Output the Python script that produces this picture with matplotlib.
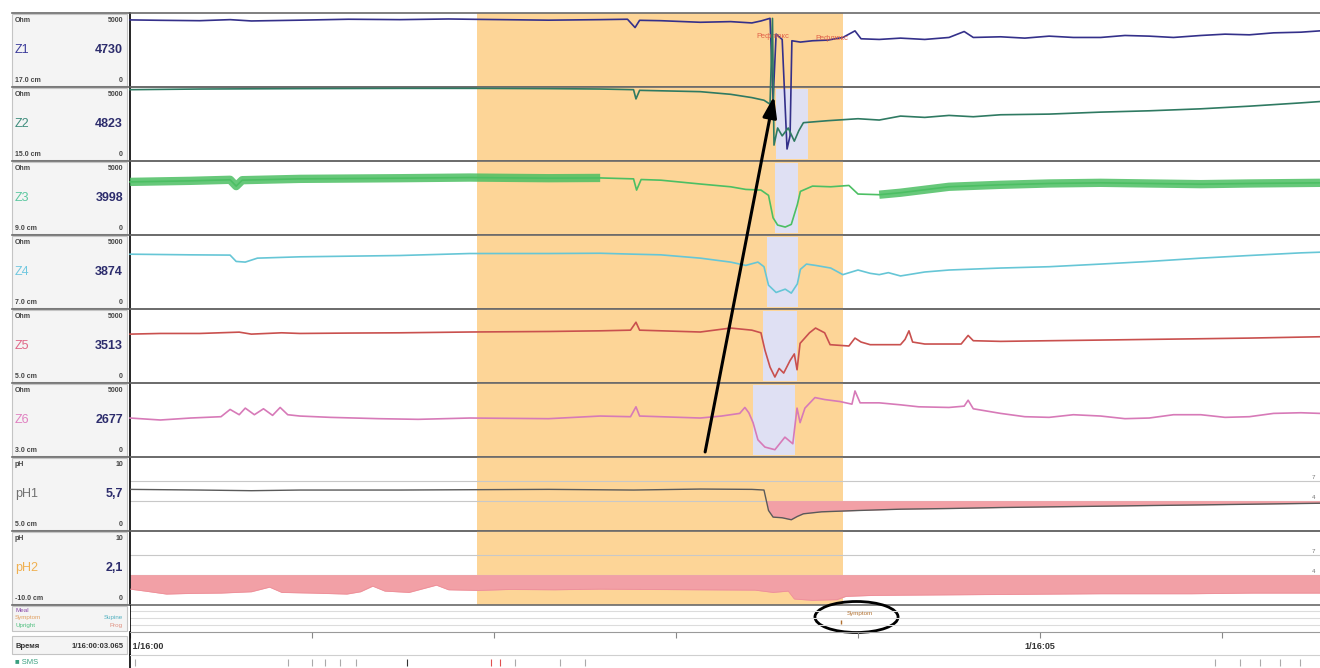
import numpy as np
import matplotlib
matplotlib.use('Agg')
import matplotlib.pyplot as plt
from matplotlib.patches import Rectangle, Ellipse, ConnectionPatch

plt.rcParams['font.family'] = ['Liberation Sans', 'DejaVu Sans']

# time axis: seconds from 1/16:00:00
T_END = 392.3

channels = ['Z1', 'Z2', 'Z3', 'Z4', 'Z5', 'Z6', 'pH1', 'pH2']
units = ['Ohm'] * 6 + ['pH'] * 2
scale_top = ['5000'] * 6 + ['10'] * 2
positions = ['17.0 cm', '15.0 cm', '9.0 cm', '7.0 cm', '5.0 cm', '3.0 cm', '5.0 cm', '-10.0 cm']
cursor_values = ['4730', '4823', '3998', '3874', '3513', '2677', '5,7', '2,1']
name_colors = ['#3b3b9a', '#3d8c7c', '#5cc8a0', '#70c8e0', '#e06888', '#e080c0', '#707070', '#f0b050']
trace_colors = ['#34308a', '#2f7a62', '#4cbf63', '#66c6d6', '#c9504e', '#d77ab8', '#5a5a5a', '#ee8f99']

# impedance, Ohm
z1_t = [0, 10, 23, 33, 40, 56, 72, 89, 105, 115, 138, 155, 164, 166.5, 168, 175, 188, 198, 205, 208,
        211, 212, 213, 215, 216.6, 217.6, 218.2, 221, 225, 230, 235, 239, 241, 247, 254, 262, 270, 275,
        278, 287, 295, 303, 311, 320, 328, 336, 344, 353, 361, 369, 377, 386, 392.3]
z1_v = [4780, 4750, 4720, 4800, 4700, 4760, 4830, 4800, 4850, 4820, 4760, 4800, 4830, 4200, 4750, 4720,
        4600, 4650, 4550, 4700, 4900, -1300, 3700, 3300, -5000, -4000, 3200, 3100, 3200, 3250, 3450, 3950,
        3350, 3300, 3400, 3300, 3450, 3900, 3450, 3500, 3400, 3550, 3450, 3450, 3600, 3550, 3450, 3600,
        3700, 3650, 3800, 3850, 3950]

z2_t = [0, 23, 56, 89, 115, 138, 155, 166, 166.8, 168, 188, 198, 205, 209, 211, 211.8, 212.3, 213.5, 215,
        217, 219, 220.5, 222, 230, 240, 247, 254, 262, 270, 278, 287, 303, 320, 336, 353, 369, 386, 392.3]
z2_v = [5100, 5150, 5180, 5200, 5200, 5180, 5150, 5100, 4400, 5050, 4950, 4750, 4500, 4300, 4000, 10500,
        900, 2200, 1600, 2200, 1200, 2000, 2600, 2750, 2900, 2800, 3100, 3000, 3150, 3050, 3200, 3250,
        3400, 3500, 3650, 3850, 4100, 4200]

z3_t = [0, 20, 33, 35, 37, 56, 89, 112, 138, 155, 166, 167, 168.5, 175, 188, 198, 203, 208, 210.5, 212,
        213.5, 216, 218, 220, 221, 225, 231, 237, 240, 247, 254, 270, 287, 303, 320, 336, 353, 369, 392.3]
z3_v = [3720, 3800, 3880, 3400, 3850, 3950, 4000, 4050, 4000, 4020, 3950, 3100, 3900, 3850, 3560, 3350,
        3150, 3100, 2700, 1000, 450, 300, 500, 2000, 3000, 3400, 3350, 3450, 2800, 2750, 2900, 3350, 3500,
        3600, 3650, 3600, 3550, 3600, 3650]
z3_band = [(0, 164), (247, 392.3)]

z4_t = [0, 20, 33, 35, 38, 42, 56, 89, 112, 138, 155, 166, 175, 188, 198, 203, 207, 209, 210.5, 213, 216,
        218, 220, 221, 223, 226, 231, 235, 240, 244, 247, 250, 254, 262, 270, 287, 303, 320, 336, 353,
        369, 386, 392.3]
z4_v = [3850, 3800, 3780, 3300, 3250, 3550, 3650, 3750, 3900, 3900, 3920, 3850, 3800, 3550, 3250, 3000,
        3250, 2900, 1500, 950, 1200, 900, 1600, 2700, 3100, 3000, 2800, 2300, 2650, 2400, 2300, 2450,
        2200, 2500, 2650, 2800, 2900, 3100, 3300, 3550, 3750, 3950, 4000]

z5_t = [0, 10, 23, 36, 40, 50, 56, 72, 89, 112, 138, 155, 165, 166.8, 168, 188, 198, 205, 208, 209.3, 211,
        212.6, 214, 215.5, 217.6, 219, 219.9, 220.9, 224, 226, 229, 230.8, 237, 239, 241, 244, 254, 255.5,
        256.8, 258, 262, 274, 276.3, 278, 287, 303, 320, 336, 353, 369, 392.3]
z5_v = [3400, 3450, 3450, 3550, 3400, 3500, 3450, 3480, 3500, 3560, 3600, 3650, 3700, 4300, 3700, 3560,
        3860, 3700, 3500, 2200, 900, 150, 800, 450, 1400, 1900, 700, 2700, 3500, 3860, 3500, 2600, 2500,
        3100, 2800, 2600, 2600, 3000, 3650, 2800, 2650, 2650, 3300, 2900, 2850, 2900, 2950, 3000, 3050,
        3100, 3200]

z6_t = [0, 10, 20, 30, 33, 36, 38, 41, 44, 47, 49.5, 52, 56, 66, 82, 95, 112, 138, 155, 165, 166.8, 168,
        188, 195, 201, 202.7, 204, 205.4, 207, 209.3, 212.6, 215.9, 218.5, 219.9, 220.9, 222.5, 225.8,
        229, 234, 238, 239, 240.7, 247, 254, 260, 270, 275, 276.3, 278, 287, 295, 303, 311, 320, 328,
        336, 344, 353, 361, 369, 377, 386, 392.3]
z6_v = [2650, 2500, 2650, 2750, 3300, 2900, 3400, 2900, 3350, 2850, 3450, 2900, 2800, 2700, 2600, 2550,
        2650, 2600, 2800, 2750, 3500, 2800, 2650, 2800, 3000, 3450, 3050, 2300, 1000, 450, 250, 1200,
        700, 3400, 2300, 3400, 4200, 4050, 3900, 3700, 4700, 3800, 3800, 3650, 3500, 3450, 3550, 4000,
        3350, 3000, 2750, 2700, 2900, 2800, 2600, 2650, 2900, 2900, 2700, 2750, 3000, 3050, 3000]

# pH
ph1_t = [0, 23, 40, 56, 89, 112, 138, 166, 188, 205, 209, 210.5, 212, 215, 218, 220, 222, 228, 240, 254,
         270, 287, 303, 320, 336, 353, 369, 392.3]
ph1_v = [5.7, 5.6, 5.5, 5.6, 5.6, 5.65, 5.7, 5.6, 5.75, 5.7, 5.6, 2.5, 1.5, 1.4, 1.1, 1.6, 2.0, 2.3, 2.5,
         2.7, 2.8, 2.95, 3.05, 3.15, 3.25, 3.35, 3.45, 3.6]

ph2_t = [0, 5, 12, 20, 30, 40, 46, 50, 60, 71.5, 76, 80, 84, 92, 101, 105, 115, 125, 140, 155, 170, 188,
         206, 212, 217, 219, 225, 233, 236, 245, 260, 290, 320, 350, 370, 392.3]
ph2_v = [1.8, 1.5, 1.05, 1.15, 1.2, 1.4, 2.1, 1.3, 1.2, 1.05, 1.4, 2.25, 1.5, 1.3, 2.4, 1.7, 1.6, 1.75,
         1.7, 1.8, 1.75, 1.7, 1.65, 1.3, 1.5, 0.3, 0.1, 0.2, 0.7, 0.85, 0.9, 1.0, 1.1, 1.1, 1.2, 1.2]

series_t = [z1_t, z2_t, z3_t, z4_t, z5_t, z6_t, ph1_t, ph2_t]
series_v = [z1_v, z2_v, z3_v, z4_v, z5_v, z6_v, ph1_v, ph2_v]

# reflux window and bolus boxes
reflux_start, reflux_end = 114.4, 235.1
bolus_rows = [1, 2, 3, 4, 5]
bolus_start = [213.0, 212.6, 210.0, 208.7, 205.4]
bolus_end = [223.5, 220.2, 220.2, 219.9, 219.2]
reflux_label_t = [212.0, 231.4]
reflux_label_v = [3560, 3400]
ph_lines = [7, 4]

symptom_t = 239.0
minute_ticks = [0, 60, 120, 180, 240, 300, 360]
time_label_t = [0, 300]
time_labels = ['1/16:00', '1/16:05']
time_label_ha = ['left', 'center']
overview_t = [1.6, 52, 60, 64.3, 69.2, 74.5, 91.3, 119, 122, 127, 141.8, 150, 357.7, 366, 372.5, 379, 385.7]
overview_c = ['#aaaaaa'] * 6 + ['#333333', '#e05050', '#e05050'] + ['#aaaaaa'] * 8

W, H = 1320, 668
fig = plt.figure(figsize=(W / 100, H / 100), dpi=100)
ORANGE = '#fdd597'
LAVENDER = '#dfe0f3'
SEP = '#6a6a6a'
TOP, ROW = 13, 74


def rect(top, height, left=130, width=1190):
    return [left / W, 1 - (top + height) / H, width / W, height / H]


bg_axes, tr_axes = [], []
for i, name in enumerate(channels):
    r = rect(TOP + ROW * i, ROW)
    bg = fig.add_axes(r, zorder=1)
    tr = fig.add_axes(r, zorder=2)
    if i < 6:
        lim = (-303, 5303)
    else:
        lim = (-0.606, 10.606)
    for a in (bg, tr):
        a.set_xlim(0, T_END)
        a.set_ylim(*lim)
        a.set_xticks([])
        a.set_yticks([])
        a.patch.set_visible(False)
    tr.axis('off')
    bg.spines['right'].set_visible(False)
    bg.spines['top'].set_color(SEP)
    bg.spines['bottom'].set_color(SEP)
    bg.spines['top'].set_linewidth(1.2)
    bg.spines['bottom'].set_linewidth(1.2)
    bg.spines['left'].set_color('black')
    bg.spines['left'].set_linewidth(1.2)
    bg.axvspan(reflux_start, reflux_end, color=ORANGE, lw=0, zorder=0)
    bg_axes.append(bg)
    tr_axes.append(tr)

for k, row in enumerate(bolus_rows):
    bg_axes[row].axvspan(bolus_start[k], bolus_end[k], ymin=0.03, ymax=0.97,
                         color=LAVENDER, lw=0, zorder=0.5)

# impedance traces
for i in range(6):
    t = np.array(series_t[i])
    v = np.array(series_v[i])
    tr_axes[i].plot(t, v, color=trace_colors[i], lw=1.2, clip_on=False)

t3 = np.array(z3_t)
v3 = np.array(z3_v)
for a, b in z3_band:
    m = (t3 >= a) & (t3 <= b)
    tr_axes[2].plot(t3[m], v3[m], color=trace_colors[2], lw=6, alpha=0.85, solid_capstyle='butt')

for t, v in zip(reflux_label_t, reflux_label_v):
    tr_axes[0].text(t, v, 'Рефлюкс', color='#e06048', fontsize=5.5, ha='center', va='center')

# pH traces with acid fill below pH 4
for i in (6, 7):
    t = np.array(series_t[i])
    v = np.array(series_v[i])
    bg = bg_axes[i]
    for lv in ph_lines:
        bg.axhline(lv, color='#c8c8c8', lw=0.8, zorder=0.6)
        bg.text(T_END - 1.5, lv + 0.5, str(lv), fontsize=4.5, color='#777777', ha='right', va='center')
    bg.fill_between(t, v, 4, where=v < 4, interpolate=True, color='#f2a0a6', lw=0, zorder=0.8)
tr_axes[6].plot(ph1_t, ph1_v, color=trace_colors[6], lw=1.0)
tr_axes[7].plot(ph2_t, ph2_v, color=trace_colors[7], lw=0.6)

# event tracks
ev = fig.add_axes(rect(605, 27), zorder=1)
ev.set_xlim(0, T_END)
ev.set_ylim(27, 0)
ev.axis('off')
for y in (6, 13, 20):
    ev.axhline(y, color='#dcdcdc', lw=0.8)
ev.axvline(0, color='black', lw=1.2)
ev.text(symptom_t + 1.5, 9, 'Symptom', color='#b07030', fontsize=4.5, ha='center', va='center')
ev.plot([symptom_t - 4.5], [17], marker='|', color='#b07030', ms=3)
ev.add_patch(Ellipse((symptom_t + 0.5, 12), width=27.4, height=31, fill=False, ec='black',
                     lw=2, clip_on=False))

# time scale
tm = fig.add_axes(rect(632, 23), zorder=1)
tm.set_xlim(0, T_END)
tm.set_ylim(0, 1)
tm.patch.set_visible(False)
for s in ('right', 'bottom'):
    tm.spines[s].set_visible(False)
tm.spines['top'].set_color('#9a9a9a')
tm.spines['left'].set_color('black')
tm.spines['left'].set_linewidth(1.2)
tm.set_yticks([])
tm.set_xticks(minute_ticks)
tm.tick_params(axis='x', direction='in', top=True, bottom=False, length=4, width=0.8,
               color='#888888', labelbottom=False)
for t, lab, ha in zip(time_label_t, time_labels, time_label_ha):
    tm.text(t, 0.35, ' ' + lab if ha == 'left' else lab, fontsize=6.5, fontweight='bold',
            color='#333333', ha=ha, va='center')

# overview strip
ov = fig.add_axes(rect(655, 13), zorder=1)
ov.set_xlim(0, T_END)
ov.set_ylim(0, 1)
ov.patch.set_visible(False)
ov.set_xticks([])
ov.set_yticks([])
for s in ('right', 'bottom'):
    ov.spines[s].set_visible(False)
ov.spines['top'].set_color('#cfcfcf')
ov.spines['left'].set_color('black')
ov.spines['left'].set_linewidth(1.2)
ov.vlines(overview_t, 0.15, 0.7, colors=overview_c, lw=0.8)

# channel panel
pn = fig.add_axes([0, 0, 129 / W, 1], zorder=5)
pn.set_xlim(0, 129)
pn.set_ylim(H, 0)
pn.axis('off')
pn.add_patch(Rectangle((0, 0), 129, H, fc='white', ec='none'))
for i, name in enumerate(channels):
    top = TOP + ROW * i
    pn.add_patch(Rectangle((12, top + 1), 115, ROW - 2, fc='#f4f4f4', ec='#c4c4c4', lw=0.8))
    pn.plot([12, 129], [top, top], color=SEP, lw=1.2)
    pn.text(15, top + 7, units[i], fontsize=5, fontweight='bold', color='#444444', va='center')
    pn.text(123, top + 7, scale_top[i], fontsize=5, fontweight='bold', color='#444444', ha='right', va='center')
    pn.text(15, top + 37, name, fontsize=9, color=name_colors[i], va='center')
    pn.text(123, top + 37, cursor_values[i], fontsize=9, fontweight='bold', color='#2c2c6c',
            ha='right', va='center')
    pn.text(15, top + 67, positions[i], fontsize=5, fontweight='bold', color='#444444', va='center')
    pn.text(123, top + 67, '0', fontsize=5, fontweight='bold', color='#444444', ha='right', va='center')
pn.plot([12, 129], [605, 605], color=SEP, lw=1.2)

pn.add_patch(Rectangle((12, 606), 115, 25, fc='#f4f4f4', ec='#c4c4c4', lw=0.8))
pn.text(15, 611, 'Meal', fontsize=4.5, color='#8a4aa8', va='center')
pn.text(15, 618, 'Symptom', fontsize=4.5, color='#e0a060', va='center')
pn.text(15, 625, 'Upright', fontsize=4.5, color='#50c080', va='center')
pn.text(123, 618, 'Supine', fontsize=4.5, color='#50b0c0', ha='right', va='center')
pn.text(123, 625, 'Prog', fontsize=4.5, color='#e09080', ha='right', va='center')

pn.add_patch(Rectangle((12, 636), 115, 18, fc='#f4f4f4', ec='#c4c4c4', lw=0.8))
pn.text(15, 647, 'Время', fontsize=5.5, fontweight='bold', color='#333333', va='center')
pn.text(124, 647, '1/16:00:03.065', fontsize=5.5, fontweight='bold', color='#333333',
        ha='right', va='center')
pn.text(15, 662, '■ SMS', fontsize=5.5, color='#3aa080', va='center')

# arrow from the distal channel up to the proximal bolus entry
arrow = ConnectionPatch(xyA=(189.6, 80), coordsA=tr_axes[5].transData,
                        xyB=(212.3, 4600), coordsB=tr_axes[1].transData,
                        arrowstyle='-|>,head_length=0.9,head_width=0.3', mutation_scale=14,
                        lw=2.2, color='black', zorder=10)
fig.add_artist(arrow)

fig.savefig('out.png', dpi=100)
